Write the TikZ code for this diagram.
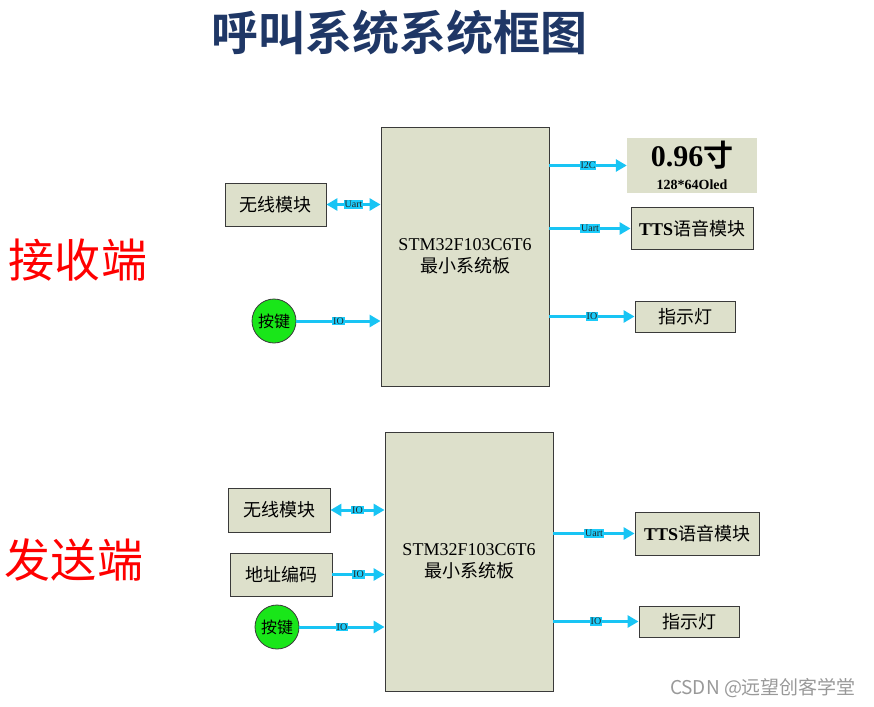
\documentclass[tikz,border=0pt]{standalone}
\usepackage{fontspec}
\setmainfont{Liberation Serif}
\newfontfamily\cjk{Noto Sans CJK SC}[BoldFont={Noto Sans CJK SC Bold}]
\newfontfamily\wmfont{Noto Sans CJK SC}
\usetikzlibrary{arrows.meta,positioning,calc}
\definecolor{hjFill}{HTML}{DDE0CB}
\definecolor{hjLine}{HTML}{3A3A3A}
\definecolor{hjWire}{HTML}{18C4F4}
\definecolor{hjTagFill}{HTML}{1ACBFA}
\definecolor{hjKey}{HTML}{19E619}
\definecolor{hjTitle}{HTML}{1F3766}
\definecolor{hjSide}{HTML}{FF0000}
\tikzset{
    hjBoxBase/.style={
        rectangle,
        draw=hjLine,
        fill=hjFill,
        line width=0.9pt,
        inner sep=0pt,
        align=center,
        font=\fontsize{18}{22}\selectfont
    },
    hjBoard/.style={hjBoxBase, minimum width=168pt, minimum height=259pt},
    hjKeyNode/.style={
        circle,
        draw=hjLine,
        fill=hjKey,
        line width=0.8pt,
        minimum size=44pt,
        inner sep=0pt,
        font=\fontsize{16}{18}\selectfont\cjk
    },
    hjSideLabel/.style={text=hjSide, font=\fontsize{46}{50}\selectfont\cjk},
    % Arrows
    hjWireBase/.style={-{Triangle[length=11pt,width=12pt]}, line width=3pt, draw=hjWire},
    hjBoth/.style={hjWireBase, {Triangle[length=11pt,width=12pt]}-{Triangle[length=11pt,width=12pt]}},
    hjTag/.style={fill=hjTagFill, inner sep=0.8pt, text=black!85, font=\fontsize{10}{10}\selectfont}
}
\begin{document}
\begin{tikzpicture}[x=1pt, y=-1pt]
\useasboundingbox (0,0) rectangle (874,706);

\node[text=hjTitle, font=\fontsize{47}{50}\selectfont\cjk\bfseries] (title) at (399,33) {呼叫系统系统框图};

% receiver
\node[hjSideLabel] (rxSide) at (78,260) {接收端};
\node[hjBoard] (rxMcu) at (465,256.5) {STM32F103C6T6\\{\cjk 最小系统板}};
\node[hjBoxBase, minimum width=101pt, minimum height=43pt] (rxRf) at (275.5,204.5) {\cjk 无线模块};
\node[hjKeyNode] (rxKey) at (274,321) {按键};
\node[fill=hjFill, inner sep=0pt, minimum width=130pt, minimum height=55pt, align=center] (rxOled) at (692,165.5)
    {{\bfseries\fontsize{30}{32}\selectfont 0.96{\cjk 寸}}\\[9pt]{\bfseries\fontsize{14}{15}\selectfont 128*64Oled}};
\node[hjBoxBase, minimum width=122pt, minimum height=42pt] (rxTts) at (692,228.5) {\textbf{TTS}{\cjk 语音模块}};
\node[hjBoxBase, minimum width=100pt, minimum height=31pt] (rxLed) at (685,316.5) {\cjk 指示灯};

\draw[hjBoth] (rxRf.east) -- (rxRf.east -| rxMcu.west) node[midway, hjTag] {Uart};
\draw[hjWireBase] (rxKey.east) -- (rxKey.east -| rxMcu.west) node[midway, hjTag] {IO};
\draw[hjWireBase] (rxOled.west -| rxMcu.east) -- (rxOled.west) node[midway, hjTag] {I2C};
\draw[hjWireBase] (rxTts.west -| rxMcu.east) -- (rxTts.west) node[midway, hjTag] {Uart};
\draw[hjWireBase] (rxLed.west -| rxMcu.east) -- (rxLed.west) node[midway, hjTag] {IO};

% sender
\node[hjSideLabel] (txSide) at (74,560) {发送端};
\node[hjBoard] (txMcu) at (469,561.5) {STM32F103C6T6\\{\cjk 最小系统板}};
\node[hjBoxBase, minimum width=102pt, minimum height=44pt] (txRf) at (279,510) {\cjk 无线模块};
\node[hjBoxBase, minimum width=102pt, minimum height=43pt] (txAddr) at (281,574.5) {\cjk 地址编码};
\node[hjKeyNode] (txKey) at (277,627) {按键};
\node[hjBoxBase, minimum width=124pt, minimum height=43pt] (txTts) at (697,533.5) {\textbf{TTS}{\cjk 语音模块}};
\node[hjBoxBase, minimum width=100pt, minimum height=31pt] (txLed) at (689,621.5) {\cjk 指示灯};

\draw[hjBoth] (txRf.east) -- (txRf.east -| txMcu.west) node[midway, hjTag] {IO};
\draw[hjWireBase] (txAddr.east) -- (txAddr.east -| txMcu.west) node[midway, hjTag] {IO};
\draw[hjWireBase] (txKey.east) -- (txKey.east -| txMcu.west) node[midway, hjTag] {IO};
\draw[hjWireBase] (txTts.west -| txMcu.east) -- (txTts.west) node[midway, hjTag] {Uart};
\draw[hjWireBase] (txLed.west -| txMcu.east) -- (txLed.west) node[midway, hjTag] {IO};

\node[text=black!40, font=\fontsize{19}{21}\selectfont\wmfont] (mark) at (763,688) {CSDN @远望创客学堂};
\end{tikzpicture}
\end{document}
